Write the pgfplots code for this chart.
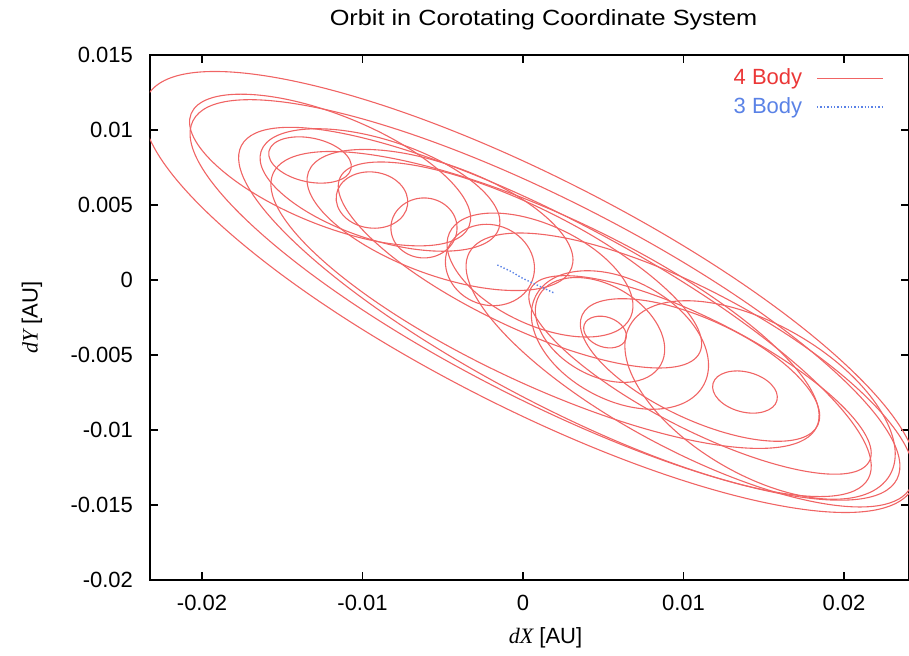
\documentclass[border=0pt]{standalone}
\usepackage{fontspec}
\setmainfont{Liberation Sans}
\newfontfamily\titlefont[FakeStretch=1.15]{Liberation Sans}
\newfontfamily\serifit{Liberation Serif}
\usepackage{pgfplots}
\pgfplotsset{compat=1.18}
\definecolor{orbitred}{RGB}{240,100,100}
\definecolor{legred}{RGB}{235,55,55}
\definecolor{orbitblue}{RGB}{90,130,230}

\begin{document}
\begin{tikzpicture}
\useasboundingbox (-75pt,-38pt) rectangle (379.5pt,290pt);
\begin{axis}[
  scale only axis, width=379.5pt, height=262.5pt,
  xmin=-0.02324, xmax=0.02405, ymin=-0.02, ymax=0.015,
  scaled ticks=false,
  xtick={-0.02,-0.01,0,0.01,0.02},
  xticklabels={-0.02,-0.01,0,0.01,0.02},
  ytick={-0.02,-0.015,-0.01,-0.005,0,0.005,0.01,0.015},
  yticklabels={-0.02,-0.015,-0.01,-0.005,0,0.005,0.01,0.015},
  tick label style={font=\fontsize{11}{13}\selectfont},
  xticklabel style={yshift=-4pt},
  yticklabel style={xshift=-5pt},
  major tick length=4pt,
  tick style={black, line width=0.8pt},
  axis line style={line width=1pt},
  title={\titlefont Orbit in Corotating Coordinate System},
  title style={at={(axis description cs:0.5,1)}, anchor=base, yshift=8.5pt, xshift=7pt,
    font=\fontsize{11}{13}\selectfont},
  xlabel={{\serifit\itshape dX} [AU]},
  xlabel style={at={(axis description cs:0.5,0)}, anchor=base, yshift=-32pt, xshift=8pt,
    font=\fontsize{11}{13}\selectfont},
  ylabel={{\serifit\itshape dY} [AU]},
  ylabel style={at={(axis description cs:-0.1555,0.5)}, anchor=center,
    font=\fontsize{11}{13}\selectfont},
  legend style={draw=none, fill=none, at={(0.975,0.99)}, anchor=north east,
    font=\fontsize{11}{13}\selectfont, row sep=1pt, column sep=5pt},
  legend plot pos=right,
  legend cell align=right,
  legend image code/.code={\draw[#1] (0pt,0pt) -- (33pt,0pt);},
  orbit/.style={smooth cycle, tension=0.68, color=orbitred, line width=0.55pt, mark=none},
]
% 4 body orbit, traced loop by loop
\addplot[orbit] coordinates {(-0.00281,-0.00763) (-0.01874,0.00357) (-0.02343,0.01221) (-0.01414,0.01323) (0.00369,0.00603) (0.01962,-0.00517) (0.02431,-0.01381) (0.01502,-0.01483)};
\addlegendentry{\textcolor{legred}{4 Body}}
\addplot[orbit, forget plot] coordinates {(-0.00146,-0.00727) (-0.01613,0.00292) (-0.02056,0.01062) (-0.01213,0.01132) (0.00420,0.00461) (0.01887,-0.00558) (0.02330,-0.01328) (0.01487,-0.01398)};
\addplot[orbit, forget plot] coordinates {(-0.00064,-0.00743) (-0.01368,0.00197) (-0.01754,0.00897) (-0.00996,0.00947) (0.00462,0.00317) (0.01766,-0.00623) (0.02152,-0.01323) (0.01394,-0.01373)};
\addplot[orbit, forget plot] coordinates {(-0.00087,-0.00646) (-0.01218,0.00102) (-0.01556,0.00713) (-0.00902,0.00828) (0.00361,0.00380) (0.01492,-0.00368) (0.01830,-0.00979) (0.01176,-0.01094)};
\addplot[orbit, forget plot] coordinates {(0.00806,-0.01071) (-0.00097,-0.00380) (-0.00335,0.00182) (0.00233,0.00286) (0.01274,-0.00129) (0.02177,-0.00820) (0.02415,-0.01382) (0.01847,-0.01486)};
\addplot[orbit, forget plot] coordinates {(0.00947,-0.00960) (0.00247,-0.00457) (0.00048,-0.00058) (0.00467,0.00005) (0.01259,-0.00306) (0.01959,-0.00809) (0.02158,-0.01208) (0.01739,-0.01271)};
\addplot[orbit, forget plot] coordinates {(0.00971,-0.00902) (0.00491,-0.00555) (0.00369,-0.00233) (0.00677,-0.00127) (0.01235,-0.00298) (0.01715,-0.00645) (0.01837,-0.00967) (0.01529,-0.01073)};
\addplot[orbit, forget plot] coordinates {(0.01351,-0.00876) (0.01219,-0.00798) (0.01184,-0.00690) (0.01265,-0.00616) (0.01415,-0.00618) (0.01547,-0.00696) (0.01582,-0.00804) (0.01501,-0.00878)};
\addplot[orbit, forget plot] coordinates {(0.01243,-0.01233) (0.00740,-0.00752) (0.00668,-0.00300) (0.01070,-0.00140) (0.01711,-0.00367) (0.02214,-0.00848) (0.02286,-0.01300) (0.01884,-0.01460)};
\addplot[orbit, forget plot] coordinates {(-0.01331,0.00393) (-0.01905,0.00758) (-0.02068,0.01108) (-0.01723,0.01238) (-0.01073,0.01073) (-0.00499,0.00708) (-0.00336,0.00358) (-0.00681,0.00228)};
\addplot[orbit, forget plot] coordinates {(-0.00987,0.00283) (-0.01483,0.00558) (-0.01632,0.00857) (-0.01347,0.01006) (-0.00795,0.00917) (-0.00299,0.00642) (-0.00150,0.00343) (-0.00435,0.00194)};
\addplot[orbit, forget plot] coordinates {(-0.00634,0.00055) (-0.01180,0.00382) (-0.01337,0.00719) (-0.01014,0.00870) (-0.00400,0.00745) (0.00146,0.00418) (0.00303,0.00081) (-0.00020,-0.00070)};
\addplot[orbit, forget plot] coordinates {(-0.00183,-0.00260) (-0.00927,0.00258) (-0.01139,0.00684) (-0.00695,0.00768) (0.00145,0.00460) (0.00889,-0.00058) (0.01101,-0.00484) (0.00657,-0.00568)};
\addplot[orbit, forget plot] coordinates {(-0.01356,0.00657) (-0.01528,0.00740) (-0.01583,0.00858) (-0.01488,0.00942) (-0.01298,0.00943) (-0.01126,0.00860) (-0.01071,0.00742) (-0.01166,0.00658)};
\addplot[orbit, forget plot] coordinates {(-0.00965,0.00348) (-0.01115,0.00425) (-0.01163,0.00566) (-0.01081,0.00687) (-0.00917,0.00718) (-0.00767,0.00641) (-0.00719,0.00500) (-0.00801,0.00379)};
\addplot[orbit, forget plot] coordinates {(-0.00617,0.00147) (-0.00763,0.00206) (-0.00823,0.00347) (-0.00763,0.00488) (-0.00617,0.00547) (-0.00471,0.00488) (-0.00411,0.00347) (-0.00471,0.00206)};
\addplot[orbit, forget plot] coordinates {(-0.00291,-0.00151) (-0.00453,-0.00004) (-0.00470,0.00203) (-0.00333,0.00350) (-0.00121,0.00351) (0.00041,0.00204) (0.00058,-0.00003) (-0.00079,-0.00150)};
\addplot[orbit, forget plot] coordinates {(-0.00026,-0.00269) (-0.00386,0.00018) (-0.00458,0.00315) (-0.00200,0.00446) (0.00238,0.00335) (0.00598,0.00048) (0.00670,-0.00249) (0.00412,-0.00380)};
\addplot[orbit, forget plot] coordinates {(0.00479,-0.00441) (0.00397,-0.00378) (0.00382,-0.00297) (0.00443,-0.00246) (0.00543,-0.00253) (0.00625,-0.00316) (0.00640,-0.00397) (0.00579,-0.00448)};
\addplot[orbit, forget plot] coordinates {(0.00340,-0.00593) (0.00114,-0.00352) (0.00102,-0.00100) (0.00312,0.00016) (0.00620,-0.00073) (0.00846,-0.00314) (0.00858,-0.00566) (0.00648,-0.00682)};
\addplot[orbit, forget plot] coordinates {(0.00429,-0.00753) (0.00110,-0.00440) (0.00081,-0.00103) (0.00358,0.00060) (0.00779,-0.00047) (0.01098,-0.00360) (0.01127,-0.00697) (0.00850,-0.00860)};
% 3 body orbit
\addplot[color=orbitblue, densely dotted, line width=0.7pt, mark=none] coordinates {(-0.0016,0.0010) (-0.0008,0.0006) (0.0000,0.0001) (0.0010,-0.0004) (0.0020,-0.0009)};
\addlegendentry{\textcolor{orbitblue}{3 Body}}
\end{axis}
\end{tikzpicture}
\end{document}
